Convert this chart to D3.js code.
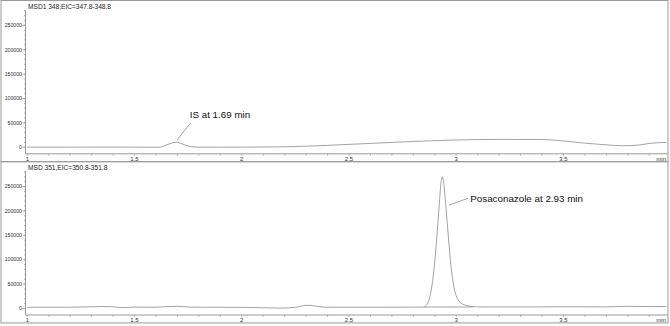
<!DOCTYPE html>
<html>
<head>
<meta charset="utf-8">
<script src="https://cdnjs.cloudflare.com/ajax/libs/d3/7.8.5/d3.min.js"></script>
<style>
    body { margin: 0; background: #fff; }
    svg { display: block; font-family: "Liberation Sans", Arial, sans-serif; }
    .frame { fill: none; stroke: #9a9a9a; stroke-width: 1; }
    .axis-line { stroke: #9a9a9a; stroke-width: 1; fill: none; }
    .tick-mark { stroke: #9a9a9a; stroke-width: 0.8; }
    .tick-label { fill: #333; }
    .trace { fill: none; stroke: #999; stroke-width: 0.9; }
    .leader { stroke: #999; stroke-width: 0.9; }
</style>
</head>
<body>
<div id="chart"></div>
<script>

// time (min)
let xTicks = [1, 1.5, 2, 2.5, 3, 3.5];
let yTicks = [0, 50000, 100000, 150000, 200000, 250000];

// MSD1 348 trace (IS)
let time348 = [1.0, 1.2, 1.4, 1.5, 1.6, 1.62, 1.65, 1.695, 1.73, 1.76, 1.8, 1.9, 2.0, 2.2, 2.4, 2.6, 2.8, 3.0, 3.2, 3.4, 3.5, 3.6, 3.7, 3.78, 3.85, 3.9, 3.98];
let abund348 = [300, 300, 500, 300, 0, 200, 5000, 10500, 5500, 1500, 300, 200, 300, 1000, 4000, 8000, 12000, 15000, 16200, 16000, 13000, 8500, 5000, 3200, 4500, 8000, 10000];

// MSD 351 trace (Posaconazole)
let time351 = [1.0, 1.1, 1.2, 1.3, 1.35, 1.4, 1.45, 1.5, 1.6, 1.65, 1.7, 1.75, 1.8, 1.9, 2.0, 2.1, 2.18, 2.25, 2.3, 2.33, 2.38, 2.45, 2.6, 2.8, 2.85, 2.86, 2.87, 2.88, 2.89, 2.90, 2.91, 2.92, 2.93, 2.935, 2.94, 2.95, 2.96, 2.97, 2.98, 2.99, 3.00, 3.01, 3.03, 3.05, 3.08, 3.12, 3.3, 3.5, 3.7, 3.8, 3.9, 3.98];
let abund351 = [2500, 2500, 2600, 3500, 4200, 3500, 1800, 2800, 2600, 3800, 4500, 3000, 2600, 2500, 2400, 1500, 800, 2500, 6500, 6000, 2800, 2500, 2500, 2800, 3000, 6000, 14000, 30000, 57000, 97000, 150000, 208000, 262000, 270000, 262000, 218000, 165000, 112000, 70000, 42000, 26000, 17000, 9000, 6000, 4000, 3200, 3200, 3500, 3300, 4500, 4000, 4000];

// integration baseline under the peak
let baseTime351 = [2.85, 3.08];
let baseAbund351 = [3000, 3200];

let titles = ["MSD1 348,EIC=347.8-348.8", "MSD 351,EIC=350.8-351.8"];

// annotations: anchor on trace, leader end, label offset
let notes = [
    {panel: 0, text: "IS at 1.69 min", t: 1.698, v: 15000, lt: 1.762, lv: 50000, dx: -1, dy: -5},
    {panel: 1, text: "Posaconazole at 2.93 min", t: 2.967, v: 212000, lt: 3.056, lv: 226000, dx: 2, dy: 3.6}
];


class Panel {
    constructor(parent, offset, height, title) {
        this.parent = parent;
        this.offset = offset;
        this.height = height;

        this.g = parent.append("g")
            .attr("transform", "translate(0," + offset + ")");

        // frame of the panel
        this.g.append("rect")
            .attr("class", "frame")
            .attr("x", 1).attr("y", 0.5)
            .attr("width", 667).attr("height", height);

        this.xAxisY = 153.8;
        this.x = d3.scaleLinear().domain([1, 3.985]).range([27.3, 667.5]);
        this.y = d3.scaleLinear().domain([0, 250000]).range([147.3, 25.3]);

        this.g.append("text")
            .attr("x", 28).attr("y", 9.2)
            .style("font-size", "6.6px")
            .style("fill", "#222")
            .text(title);

        this._axes();
    }

    _axes() {
        let obj = this;
        let ax = this.g.append("g");

        // y axis
        ax.append("line").attr("class", "axis-line")
            .attr("x1", 25.5).attr("x2", 25.5)
            .attr("y1", 10).attr("y2", this.xAxisY);

        let minorY = d3.range(0, 290000, 10000);
        ax.selectAll(".ymin").data(minorY).enter().append("line")
            .attr("class", "tick-mark")
            .attr("x1", 24).attr("x2", 25.5)
            .attr("y1", d => obj.y(d)).attr("y2", d => obj.y(d));

        ax.selectAll(".ymaj").data(yTicks).enter().append("line")
            .attr("class", "tick-mark")
            .attr("x1", 22.5).attr("x2", 25.5)
            .attr("y1", d => obj.y(d)).attr("y2", d => obj.y(d));

        ax.selectAll(".ylab").data(yTicks).enter().append("text")
            .attr("class", "tick-label")
            .attr("x", 22).attr("y", d => obj.y(d) + 1.8)
            .attr("text-anchor", "end")
            .style("font-size", "5.2px")
            .text(d => d3.format("d")(d));

        // x axis
        ax.append("line").attr("class", "axis-line")
            .attr("x1", 25.5).attr("x2", 668)
            .attr("y1", this.xAxisY).attr("y2", this.xAxisY);

        let minorX = d3.range(1, 3.95, 0.1);
        ax.selectAll(".xmin").data(minorX).enter().append("line")
            .attr("class", "tick-mark")
            .attr("x1", d => obj.x(d)).attr("x2", d => obj.x(d))
            .attr("y1", this.xAxisY).attr("y2", this.xAxisY + 1.8);

        ax.selectAll(".xlab").data(xTicks).enter().append("text")
            .attr("class", "tick-label")
            .attr("x", d => obj.x(d)).attr("y", this.xAxisY + 6.8)
            .attr("text-anchor", "middle")
            .style("font-size", "6px")
            .text(d => d);

        ax.append("text")
            .attr("class", "tick-label")
            .attr("x", 666).attr("y", this.xAxisY + 6.8)
            .attr("text-anchor", "end")
            .style("font-size", "6px")
            .text("min");
    }

    trace(times, values) {
        let obj = this;
        let pts = times.map((t, i) => [t, values[i]]);
        let line = d3.line()
            .x(d => obj.x(d[0]))
            .y(d => obj.y(d[1]))
            .curve(d3.curveMonotoneX);
        this.g.append("path")
            .attr("class", "trace")
            .attr("d", line(pts));
    }

    note(n) {
        this.g.append("line")
            .attr("class", "leader")
            .attr("x1", this.x(n.t)).attr("y1", this.y(n.v))
            .attr("x2", this.x(n.lt)).attr("y2", this.y(n.lv));
        this.g.append("text")
            .attr("x", this.x(n.lt) + n.dx).attr("y", this.y(n.lv) + n.dy)
            .style("font-size", "9.8px")
            .style("fill", "#111")
            .text(n.text);
    }
}


let svg = d3.select("#chart").append("svg")
    .attr("width", 670)
    .attr("height", 326);

let panelTop = new Panel(svg, 0, 161.2, titles[0]);
let panelBottom = new Panel(svg, 161.2, 161.2, titles[1]);

panelTop.trace(time348, abund348);
panelBottom.trace(time351, abund351);
panelBottom.trace(baseTime351, baseAbund351);

panelTop.note(notes[0]);
panelBottom.note(notes[1]);

</script>
</body>
</html>
